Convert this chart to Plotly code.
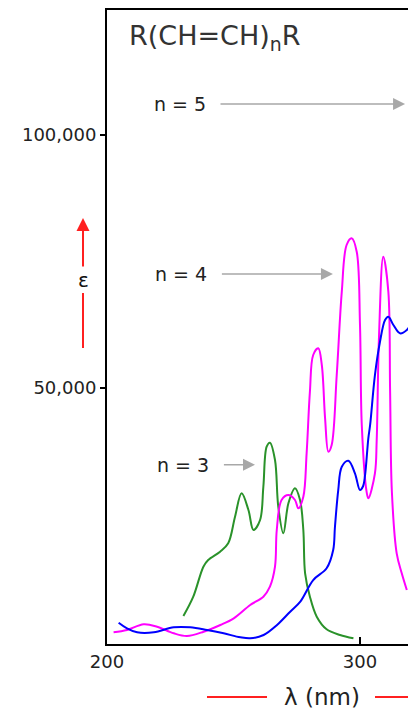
import plotly.graph_objects as go

# ---- data (wavelength nm, molar absorptivity) ----
n3_x = [230.2, 234.1, 238.1, 240.0, 244.7, 247.9, 250.6, 253.2, 255.9, 257.9, 260.5, 261.8,
        263.1, 264.4, 266.4, 267.7, 269.7, 271.7, 274.3, 276.3, 277.6, 278.3, 280.2, 282.9,
        286.8, 292.1, 297.4]
n3_y = [4830, 8650, 14590, 15910, 17560, 19220, 24480, 29110, 25800, 21850, 23830, 30420,
        38330, 39130, 35700, 26460, 21190, 27130, 30100, 27790, 21850, 13280, 8650, 4690,
        2200, 1070, 410]

n4_x = [202.6, 207.9, 214.5, 219.8, 226.4, 231.6, 238.2, 244.8, 250.1, 256.6, 261.8, 264.4,
        266.4, 267.1, 269.0, 271.7, 274.3, 275.6, 277.6, 278.9, 280.2, 281.5, 283.5, 284.9,
        286.2, 287.5, 288.8, 290.8, 292.8, 294.7, 296.7, 298.7, 300.0, 300.7, 302.6, 303.3,
        305.9, 306.6, 307.5, 309.2, 311.2, 311.9, 312.6, 314.5, 316.5, 318.5]
n4_y = [1600, 2060, 3190, 2710, 1400, 870, 1720, 3050, 4370, 7000, 8650, 10630,
        14590, 21850, 27790, 28780, 27790, 26140, 28440, 37020, 49220, 56480, 57800, 54500,
        43950, 37340, 38670, 52520, 69010, 78250, 79570, 76920, 62420, 42630, 29430, 28120,
        33070, 39660, 60000, 75930, 69010, 49220, 29430, 17240, 13280, 9980]

n5_x = [204.6, 207.9, 211.9, 218.5, 226.4, 232.9, 239.5, 246.1, 252.7, 256.6, 261.9, 267.2,
        272.4, 276.4, 281.5, 286.8, 289.4, 290.1, 291.4, 292.8, 295.4, 298.0, 300.0, 301.2,
        302.0, 303.3, 304.0, 305.9, 307.9, 309.9, 311.2, 313.2, 315.8, 318.5, 320.0]
n5_y = [3500, 2390, 1600, 1600, 2590, 2590, 2060, 1400, 610, 410, 1070, 3050,
        5680, 7660, 11950, 14270, 17890, 22500, 29760, 34380, 35560, 33070, 29760, 30500,
        32730, 40050, 42630, 52520, 59110, 63410, 64060, 62420, 60770, 61430, 62500]

y_tickvals = [50000, 100000]
y_ticktext = ["50,000", "100,000"]
x_tickvals = [200, 300]
x_ticktext = ["200", "300"]

labels = ["n = 5", "n = 4", "n = 3"]
label_y = [106150, 72510, 34740]
label_center_x = [228.85, 229.4, 230.2]
arrow_head_x = [317.8, 289.3, 258.5]

X_RANGE = [200, 318.97]
Y_RANGE = [-712, 124756]

fig = go.Figure()
fig.add_trace(go.Scatter(x=n3_x, y=n3_y, mode="lines",
                         line=dict(color="#2a922a", width=2, shape="spline", smoothing=1.0)))
fig.add_trace(go.Scatter(x=n4_x, y=n4_y, mode="lines",
                         line=dict(color="#ff00ff", width=2, shape="spline", smoothing=1.0)))
fig.add_trace(go.Scatter(x=n5_x, y=n5_y, mode="lines",
                         line=dict(color="#0000ff", width=2, shape="spline", smoothing=1.0)))

FONT = "DejaVu Sans"
annotations = []
# title
annotations.append(dict(text="R(CH=CH)<sub>n</sub>R", xref="paper", yref="paper",
                        x=0.066, y=0.957, xanchor="left", yanchor="middle", showarrow=False,
                        font=dict(family=FONT, size=27, color="#333333")))
# labels with gray arrows
for lab, ly, cx, hx in zip(labels, label_y, label_center_x, arrow_head_x):
    annotations.append(dict(text=lab, x=hx, y=ly, ax=cx, ay=ly, xref="x", yref="y",
                            axref="x", ayref="y", showarrow=True, arrowhead=2,
                            arrowsize=1.6, arrowwidth=1.5, arrowcolor="#a8a8a8",
                            startstandoff=13, xanchor="center", yanchor="middle",
                            font=dict(family=FONT, size=19, color="#222222")))
# y-axis label: epsilon with red arrow above
annotations.append(dict(text="ε", xref="paper", yref="paper", x=-0.0797, y=0.6719,
                        ax=0, ay=62, showarrow=True, arrowhead=2, arrowsize=1.3,
                        arrowwidth=2, arrowcolor="#ff2020", startstandoff=0,
                        xanchor="center", yanchor="middle",
                        font=dict(family=FONT, size=20, color="#111111")))
# x-axis label
annotations.append(dict(text="λ (nm)", xref="paper", yref="paper", x=0.714, y=-0.0836,
                        xanchor="center", yanchor="middle",
                        showarrow=False, font=dict(family=FONT, size=23, color="#222222")))

shapes = [
    dict(type="line", xref="paper", yref="paper", x0=-0.0797, x1=-0.0797,
         y0=(644 - 348) / 634, y1=(644 - 293) / 634,
         line=dict(color="#ff2020", width=2)),
    dict(type="line", xref="paper", yref="paper", x0=0.3322, x1=0.5316, y0=-0.0836, y1=-0.0836,
         line=dict(color="#ff2020", width=2)),
    dict(type="line", xref="paper", yref="paper", x0=0.8904, x1=1.0, y0=-0.0836, y1=-0.0836,
         line=dict(color="#ff2020", width=2)),
]

fig.update_layout(
    width=408, height=711,
    margin=dict(l=107, r=0, t=10, b=67),
    paper_bgcolor="white", plot_bgcolor="white",
    showlegend=False,
    annotations=annotations, shapes=shapes,
    font=dict(family=FONT, size=18, color="#222222"),
    xaxis=dict(range=X_RANGE, showgrid=False, zeroline=False, showline=True, linecolor="black",
               linewidth=2, mirror=True, tickvals=x_tickvals, ticktext=x_ticktext,
               ticks="inside", ticklen=7, tickwidth=2, tickcolor="black",
               tickfont=dict(family=FONT, size=18, color="#222222")),
    yaxis=dict(range=Y_RANGE, showgrid=False, zeroline=False, showline=True, linecolor="black",
               linewidth=2, tickvals=y_tickvals, ticktext=y_ticktext,
               ticks="outside", ticklen=5, tickwidth=2, tickcolor="black",
               tickfont=dict(family=FONT, size=18, color="#222222")),
)

fig.write_html("out.html", config={"displayModeBar": False, "staticPlot": True},
               post_script="document.body.style.margin='0';")
